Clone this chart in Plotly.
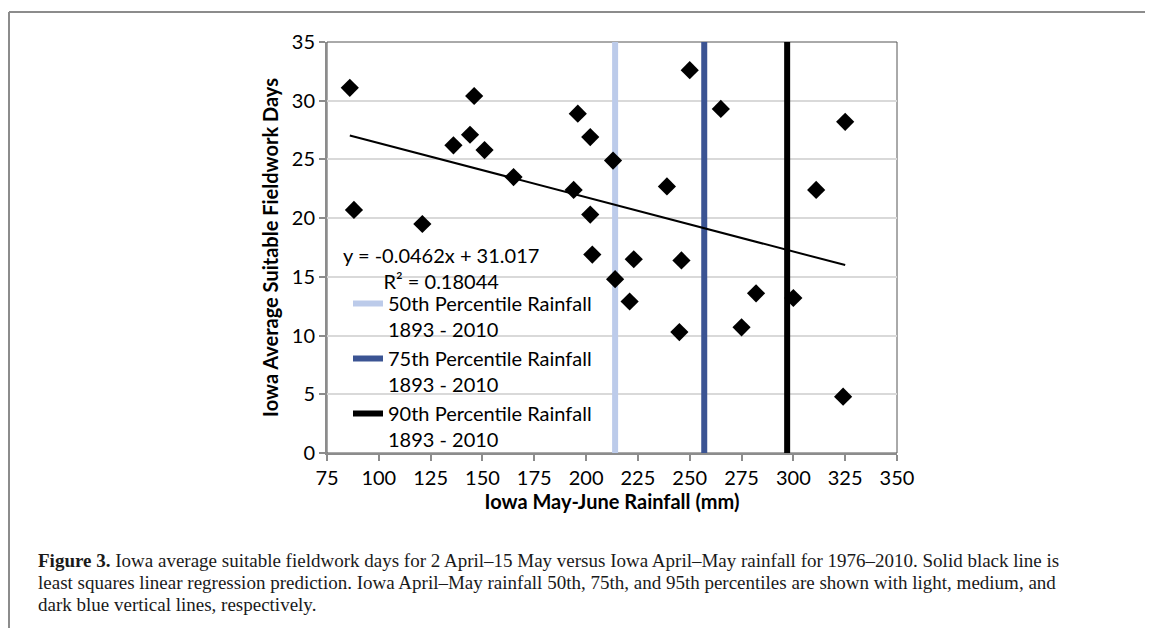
import plotly.graph_objects as go

rain_mm = [86, 88, 121, 136, 144, 146, 151, 165, 194, 196, 202, 202, 203, 213,
           214, 221, 223, 239, 245, 246, 250, 265, 275, 282, 300, 311, 324, 325]
fieldwork_days = [31.1, 20.7, 19.5, 26.2, 27.1, 30.4, 25.8, 23.5, 22.4, 28.9, 26.9, 20.3, 16.9, 24.9,
                  14.8, 12.9, 16.5, 22.7, 10.3, 16.4, 32.6, 29.3, 10.7, 13.6, 13.2, 22.4, 4.8, 28.2]

trend_slope = -0.0462
trend_intercept = 31.017
trend_r2 = 0.18044

pct_names = ["50th Percentile Rainfall<br>1893 - 2010",
             "75th Percentile Rainfall<br>1893 - 2010",
             "90th Percentile Rainfall<br>1893 - 2010"]
pct_values = [214, 257, 297]
pct_colors = ["#bccbea", "#3b5493", "#000000"]
pct_widths = [6, 6, 6]

x_ticks = list(range(75, 351, 25))
y_ticks = list(range(0, 36, 5))

caption_lines = [
    "<b>Figure 3.</b> Iowa average suitable fieldwork days for 2 April–15 May versus Iowa April–May rainfall for 1976–2010. Solid black line is",
    "least squares linear regression prediction. Iowa April–May rainfall 50th, 75th, and 95th percentiles are shown with light, medium, and",
    "dark blue vertical lines, respectively.",
]

FONT = "Lato"

# plot area in screen pixels (page has an 8px body margin)
PL, PT, PW, PH = 327, 42, 570, 411
OFF = 8


def px(sx):
    return (sx - PL) / PW


def py(sy):
    return (PT + PH - sy) / PH


fig = go.Figure()

for name, val, col, w in zip(pct_names, pct_values, pct_colors, pct_widths):
    fig.add_trace(go.Scatter(x=[val, val], y=[0, 35], mode="lines", name=name,
                             line=dict(color=col, width=w), hoverinfo="skip"))

tx = [min(rain_mm), max(rain_mm)]
ty = [trend_slope * v + trend_intercept for v in tx]
fig.add_trace(go.Scatter(x=tx, y=ty, mode="lines", line=dict(color="black", width=2),
                         showlegend=False))

fig.add_trace(go.Scatter(x=rain_mm, y=fieldwork_days, mode="markers",
                         marker=dict(symbol="diamond", size=14, color="black"),
                         showlegend=False))

fig.add_shape(type="rect", xref="paper", yref="paper", x0=0, x1=1, y0=0, y1=1,
              line=dict(color="#555555", width=1), layer="below")
# figure frame
fig.add_shape(type="line", xref="paper", yref="paper", x0=px(9), x1=px(1160),
              y0=py(12), y1=py(12), line=dict(color="#8c8c8c", width=2))
fig.add_shape(type="line", xref="paper", yref="paper", x0=px(9), x1=px(9),
              y0=py(12), y1=py(640), line=dict(color="#8c8c8c", width=2))

fig.add_annotation(xref="paper", yref="paper", x=px(441), y=py(267.5),
                   xanchor="center", yanchor="middle",
                   text=f"y = {trend_slope}x + {trend_intercept}<br>R² = {trend_r2}", showarrow=False,
                   font=dict(family=FONT, size=20, color="black"), align="center")

for i, line in enumerate(caption_lines):
    fig.add_annotation(xref="paper", yref="paper", x=px(36), y=py(560 + 22 * i),
                       xanchor="left", yanchor="middle", align="left", showarrow=False,
                       text=line, font=dict(family="Liberation Serif", size=19, color="#1a1a1a"))

fig.update_layout(
    width=1153 - OFF, height=628 - OFF,
    margin=dict(l=PL - OFF, r=1153 - PL - PW, t=PT - OFF, b=628 - PT - PH),
    paper_bgcolor="white", plot_bgcolor="white",
    font=dict(family=FONT, size=20, color="black"),
    showlegend=True,
    legend=dict(x=px(348), y=py(284), xanchor="left", yanchor="top", bgcolor="rgba(0,0,0,0)",
                font=dict(family=FONT, size=20), valign="top", tracegroupgap=0,
                itemwidth=30),
    xaxis=dict(range=[75, 350], tickvals=x_ticks, showgrid=False, zeroline=False,
               showline=True, linecolor="#8c8c8c", linewidth=2,
               ticks="outside", ticklen=6, tickcolor="#8c8c8c", tickwidth=2,
               title=dict(text="<b>Iowa May-June Rainfall (mm)</b>", font=dict(size=20), standoff=3),
               tickfont=dict(size=20)),
    yaxis=dict(range=[0, 35], tickvals=y_ticks, showgrid=True, gridcolor="#d9d9d9", gridwidth=1.5,
               zeroline=False, showline=True, linecolor="#8c8c8c", linewidth=2,
               ticks="outside", ticklen=6, tickcolor="#8c8c8c", tickwidth=2,
               title=dict(text="<b>Iowa Average Suitable Fieldwork Days</b>", font=dict(size=20), standoff=8),
               tickfont=dict(size=20)),
)

fig.write_html("out.html")
